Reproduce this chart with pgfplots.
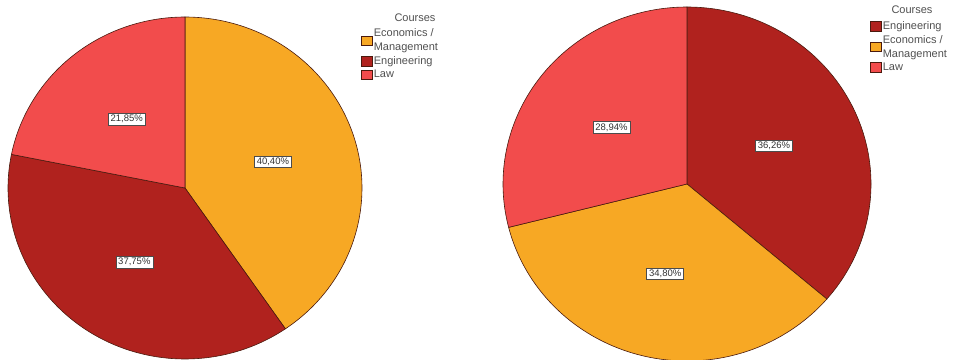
\documentclass[border=0pt]{standalone}
\usepackage{fontspec}
\setmainfont{Liberation Sans}
\usepackage{pgfplots}
\pgfplotsset{compat=1.18}
\definecolor{econ}{HTML}{F7A824}
\definecolor{eng}{HTML}{B0221E}
\definecolor{law}{HTML}{F24C4C}
\definecolor{edge}{HTML}{4A1A0E}
\definecolor{txt}{HTML}{505050}

\pgfplotsset{legend image code/.code={\draw[#1] (0pt,-4.75pt) rectangle (11pt,4.75pt);}}
\pgfplotsset{pieaxis/.style={scale only axis, width=953pt, height=359pt,
  xmin=0, xmax=953, ymin=0, ymax=359, hide axis, at={(0pt,0pt)}, anchor=south west, clip=true,
  legend style={draw=none, fill=none, inner sep=0pt, font=\fontsize{11}{11}\selectfont,
    text=txt, row sep=2.5pt, nodes={inner xsep=1pt, inner ysep=0.8pt}, anchor=north west},
  legend cell align=left}}

% \pieslice{cx}{cy}{rx}{ry}{cumulative before}{value}{colour}
\newcommand{\pieslice}[7]{%
  \addplot[draw=edge, line width=0.6pt, fill=#7, domain={90-3.6*(#5+#6)}:{90-3.6*(#5)},
    samples=120, variable=\t] ({#1+#3*cos(\t)},{#2+#4*sin(\t)}) -- (axis cs:#1,#2) -- cycle;}
% \pielabel{cx}{cy}{rx}{ry}{cumulative before}{value}
\newcommand{\pielabel}[6]{%
  \node[fill=white, draw=black!70, line width=0.5pt, inner xsep=2.4pt, inner ysep=1.8pt,
    font=\fontsize{9.5}{9.5}\selectfont, text=black!80]
    at (axis cs:{#1+0.52*#3*cos(90-3.6*(#5+#6/2))},{#2+0.52*#4*sin(90-3.6*(#5+#6/2))})
    {\pgfmathprintnumber[fixed, fixed zerofill, precision=2, use comma, assume math mode=true]{#6}\%};}
\newcommand{\twoline}{{\lineskip=0pt\shortstack[l]{Economics /\strut\\Management\strut}}}

\begin{document}
\begin{tikzpicture}
\useasboundingbox (0pt,0pt) rectangle (953pt,359pt);
% Left pie
\begin{axis}[pieaxis, legend style={at={(axis cs:361,331)}}]
\pieslice{185}{171}{177}{171}{0}{40.40}{econ}
\addlegendentry{\twoline}
\pieslice{185}{171}{177}{171}{40.40}{37.75}{eng}
\addlegendentry{Engineering\strut}
\pieslice{185}{171}{177}{171}{78.15}{21.85}{law}
\addlegendentry{Law\strut}
\pielabel{185}{171}{177}{171}{0}{40.40}
\pielabel{185}{171}{177}{171}{40.40}{37.75}
\pielabel{185}{171}{177}{171}{78.15}{21.85}
\node[font=\fontsize{11}{11}\selectfont, text=txt] at (axis cs:415,341.5) {Courses};
\end{axis}
% Right pie
\begin{axis}[pieaxis, legend style={at={(axis cs:870,338.5)}}]
\pieslice{687}{175}{184}{177}{0}{36.26}{eng}
\addlegendentry{Engineering\strut}
\pieslice{687}{175}{184}{177}{36.26}{34.80}{econ}
\addlegendentry{\twoline}
\pieslice{687}{175}{184}{177}{71.06}{28.94}{law}
\addlegendentry{Law\strut}
\pielabel{687}{175}{184}{177}{0}{36.26}
\pielabel{687}{175}{184}{177}{36.26}{34.80}
\pielabel{687}{175}{184}{177}{71.06}{28.94}
\node[font=\fontsize{11}{11}\selectfont, text=txt] at (axis cs:912,349.5) {Courses};
\end{axis}
\end{tikzpicture}
\end{document}
